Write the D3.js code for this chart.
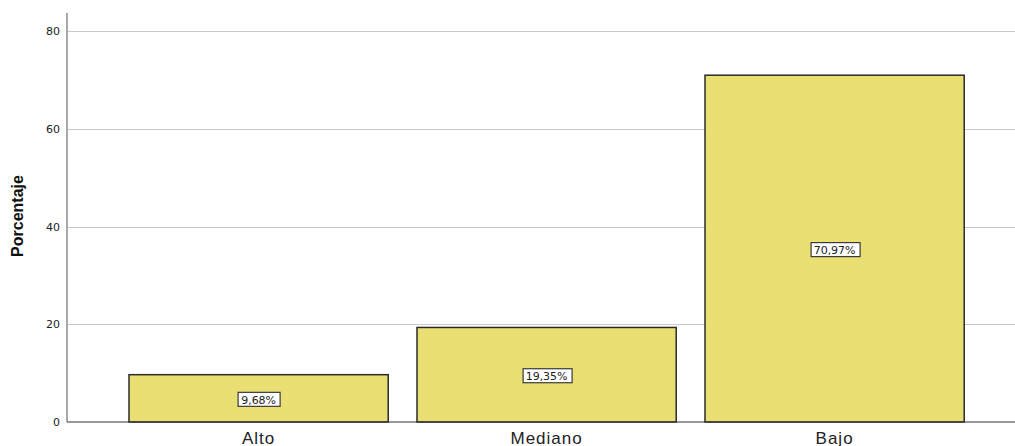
<!DOCTYPE html>
<html lang="es">
<head>
    <meta charset="UTF-8">
    <title>Porcentaje</title>
    <script src="https://d3js.org/d3.v7.min.js"></script>
    <style>
        body { margin: 0; background: #fff; }
        svg { display: block; }
    </style>
</head>
<body>
<svg width="1015" height="446"></svg>
<script>
    var categories = ["Alto", "Mediano", "Bajo"];
    var values = [9.68, 19.35, 70.97];
    var labels = ["9,68%", "19,35%", "70,97%"];
    var yTicks = [0, 20, 40, 60, 80];

    var svg = d3.select("svg");
    var axisX = 67, plotRight = 1015;

    var x = d3.scaleBand()
        .domain(categories)
        .range([100.2, 993])
        .paddingInner(0.1)
        .paddingOuter(0.1);

    var y = d3.scaleLinear()
        .domain([0, 83.7])
        .range([422, 13]);

    // gridlines
    svg.append("g")
        .selectAll("line")
        .data(yTicks.filter(function (d) { return d > 0; }))
        .enter()
        .append("line")
        .attr("x1", axisX)
        .attr("x2", plotRight)
        .attr("y1", function (d) { return Math.round(y(d)) + 0.5; })
        .attr("y2", function (d) { return Math.round(y(d)) + 0.5; })
        .attr("stroke", "#c9c9c9")
        .attr("stroke-width", 1);

    // bars
    svg.append("g")
        .selectAll("rect")
        .data(values)
        .enter()
        .append("rect")
        .attr("x", function (d, i) { return x(categories[i]); })
        .attr("y", function (d) { return y(d); })
        .attr("width", x.bandwidth())
        .attr("height", function (d) { return y(0) - y(d); })
        .attr("fill", "#e9df73")
        .attr("stroke", "#2b2b2b")
        .attr("stroke-width", 1.5);

    // y axis line and baseline
    svg.append("line")
        .attr("x1", axisX).attr("x2", axisX)
        .attr("y1", 13).attr("y2", y(0))
        .attr("stroke", "#8c8c8c")
        .attr("stroke-width", 1.5);
    svg.append("line")
        .attr("x1", axisX).attr("x2", plotRight)
        .attr("y1", y(0)).attr("y2", y(0))
        .attr("stroke", "#333")
        .attr("stroke-width", 1.2);

    // y tick labels
    svg.append("g")
        .selectAll("text")
        .data(yTicks)
        .enter()
        .append("text")
        .attr("x", 60)
        .attr("y", function (d) { return y(d) + 4; })
        .attr("text-anchor", "end")
        .attr("font-family", "DejaVu Sans, sans-serif")
        .attr("font-size", 11)
        .attr("fill", "#222")
        .text(function (d) { return d; });

    // y axis title
    svg.append("text")
        .attr("transform", "translate(23,216) rotate(-90)")
        .attr("text-anchor", "middle")
        .attr("font-family", "Liberation Sans, Arial, sans-serif")
        .attr("font-weight", "bold")
        .attr("font-size", 16)
        .attr("fill", "#111")
        .text("Porcentaje");

    // category labels
    svg.append("g")
        .selectAll("text")
        .data(categories)
        .enter()
        .append("text")
        .attr("x", function (d) { return x(d) + x.bandwidth() / 2; })
        .attr("y", 444)
        .attr("text-anchor", "middle")
        .attr("font-family", "Liberation Sans, Arial, sans-serif")
        .attr("font-size", 17)
        .attr("letter-spacing", 1)
        .attr("fill", "#222")
        .text(function (d) { return d; });

    // value labels in boxes
    var lab = svg.append("g")
        .selectAll("g")
        .data(values)
        .enter()
        .append("g")
        .attr("transform", function (d, i) {
            return "translate(" + (x(categories[i]) + x.bandwidth() / 2) + "," + (y(d / 2) + 1.5) + ")";
        });

    lab.append("text")
        .attr("text-anchor", "middle")
        .attr("y", 4)
        .attr("font-family", "DejaVu Sans, sans-serif")
        .attr("font-size", 11)
        .attr("fill", "#222")
        .text(function (d, i) { return labels[i]; });

    lab.each(function () {
        var g = d3.select(this);
        var bb = g.select("text").node().getBBox();
        g.insert("rect", "text")
            .attr("x", Math.round(bb.x - 3.5) + 0.5)
            .attr("y", -7.5)
            .attr("width", Math.round(bb.width + 7))
            .attr("height", 14)
            .attr("fill", "#fff")
            .attr("stroke", "#3a3a3a")
            .attr("stroke-width", 1.2);
    });
</script>
</body>
</html>
